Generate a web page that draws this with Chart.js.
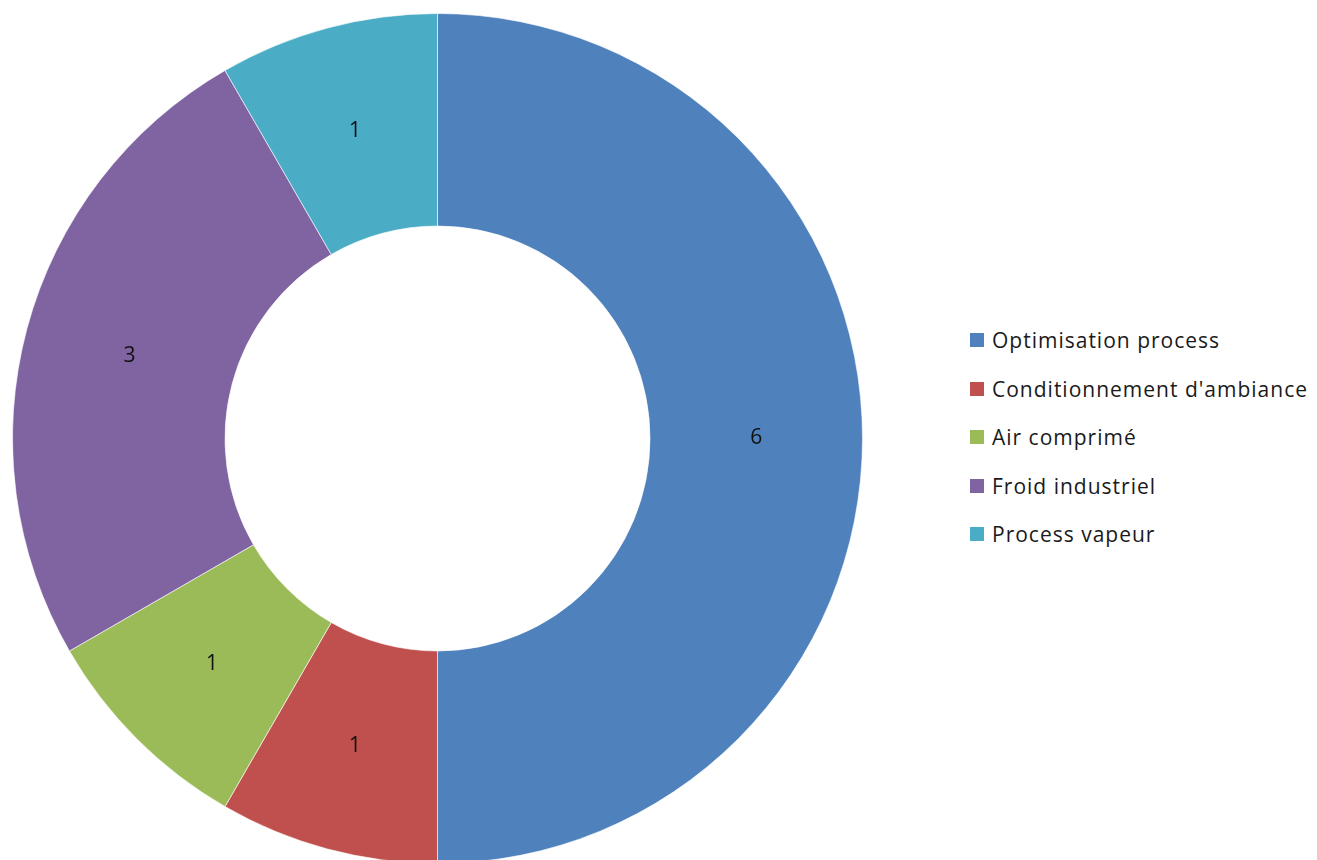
<!DOCTYPE html>
<html>
<head>
<meta charset="utf-8">
<script src="https://cdn.jsdelivr.net/npm/chart.js@4/dist/chart.umd.min.js"></script>
<style>
  html, body { margin: 0; padding: 0; background: #fff; overflow: hidden; }
  #wrap { position: relative; width: 1317px; height: 860px; overflow: hidden; }
  #chartBox { position: absolute; left: 0; top: 0; width: 875px; height: 864px; }
  #legend { position: absolute; left: 970px; top: 316px; font-family: "Open Sans", sans-serif; font-size: 21px; letter-spacing: 1px; color: #1a1a1a; }
  .item { height: 48.5px; display: flex; align-items: center; white-space: nowrap; }
  .sw { width: 14px; height: 14px; margin-right: 8px; }
</style>
</head>
<body>
<div id="wrap">
  <div id="chartBox"><canvas id="donut"></canvas></div>
  <div id="legend"></div>
</div>
<script>
const categories = ['Optimisation process', "Conditionnement d'ambiance", 'Air comprimé', 'Froid industriel', 'Process vapeur'];
const counts = [6, 1, 1, 3, 1];
const colors = ['#4F81BD', '#C0504D', '#9BBB59', '#8064A2', '#4BACC6'];

// draw the value in the middle of each slice
const sliceLabels = {
  id: 'sliceLabels',
  afterDatasetsDraw(chart) {
    const ctx = chart.ctx;
    const meta = chart.getDatasetMeta(0);
    ctx.save();
    ctx.font = '21px "Open Sans", sans-serif';
    ctx.fillStyle = '#111';
    ctx.textAlign = 'center';
    ctx.textBaseline = 'middle';
    meta.data.forEach((arc, i) => {
      const p = arc.tooltipPosition();
      ctx.fillText(String(counts[i]), p.x, p.y);
    });
    ctx.restore();
  }
};

new Chart(document.getElementById('donut'), {
  type: 'doughnut',
  data: {
    labels: categories,
    datasets: [{
      data: counts,
      backgroundColor: colors,
      borderColor: 'rgba(255,255,255,0.6)',
      borderWidth: 1
    }]
  },
  options: {
    responsive: true,
    maintainAspectRatio: false,
    animation: false,
    cutout: '50%',
    layout: { padding: { left: 12, right: 12, top: 13, bottom: 0 } },
    plugins: {
      legend: { display: false },
      tooltip: { enabled: false }
    }
  },
  plugins: [sliceLabels]
});

const legend = document.getElementById('legend');
categories.forEach((c, i) => {
  const row = document.createElement('div');
  row.className = 'item';
  const sw = document.createElement('span');
  sw.className = 'sw';
  sw.style.background = colors[i];
  const t = document.createElement('span');
  t.textContent = c;
  row.appendChild(sw);
  row.appendChild(t);
  legend.appendChild(row);
});
</script>
</body>
</html>
